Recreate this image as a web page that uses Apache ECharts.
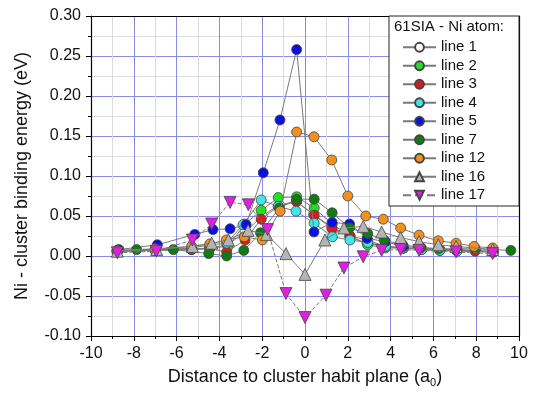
<!DOCTYPE html>
<html><head><meta charset="utf-8">
<script src="https://cdn.jsdelivr.net/npm/echarts@6/dist/echarts.min.js"></script>
<style>html,body{margin:0;padding:0;background:#fff}#c{width:539px;height:398px}</style>
</head><body><div id="c"></div>
<script>
// ---- data ----
const seriesNames = ['line 1','line 2','line 3','line 4','line 5','line 7','line 12','line 16','line 17'];
const seriesColors = ['#ffffff','#22e022','#e01a1a','#3fe6ea','#0a10e0','#127a12','#f0901e','#b4b4b4','#e020e0'];

const x1 = [-8.8,-7.0,-5.3,-4.45,-3.6,-2.8,-2.0,-1.2,-0.4,0.4,1.25,2.1,2.9,3.75,4.6,5.45,6.3,7.1,8.8];
const y1 = [0.006,0.007,0.008,0.010,0.014,0.030,0.050,0.064,0.068,0.052,0.036,0.024,0.016,0.012,0.010,0.009,0.008,0.007,0.005];

const x2 = [-8.77,-7.0,-5.3,-4.45,-3.6,-2.8,-2.05,-1.25,-0.39,0.43,1.27,2.1,2.93,3.75,4.6,5.45,6.3,7.1,7.95,8.8];
const y2 = [0.007,0.008,0.009,0.010,0.012,0.040,0.057,0.073,0.074,0.060,0.040,0.025,0.014,0.010,0.010,0.009,0.008,0.008,0.007,0.006];

const x3 = [-8.77,-7.0,-5.3,-4.45,-3.66,-2.8,-2.05,-1.25,-0.39,0.43,1.27,2.1,2.93,3.75,4.6,5.45,6.3,7.1,7.95,8.8];
const y3 = [0.006,0.007,0.008,0.009,0.005,0.020,0.046,0.062,0.068,0.051,0.034,0.025,0.020,0.012,0.010,0.008,0.007,0.007,0.006,0.005];

const x4 = [-8.77,-7.0,-5.3,-4.45,-3.66,-2.9,-2.05,-1.25,-0.42,0.43,1.28,2.1,2.93,3.75,4.6,5.45,6.3,7.1,8.8];
const y4 = [0.006,0.007,0.010,0.014,0.016,0.039,0.070,0.062,0.056,0.041,0.024,0.020,0.017,0.012,0.010,0.008,0.007,0.006,0.005];

const x5 = [-8.7,-6.9,-5.15,-4.3,-3.5,-2.75,-1.95,-1.17,-0.39,0.42,1.27,2.08,2.9,3.75,4.6,5.4,7.06,8.77];
const y5 = [0.008,0.014,0.027,0.033,0.034,0.039,0.104,0.170,0.258,0.030,0.042,0.040,0.022,0.018,0.012,0.010,0.008,0.005];

const x7 = [-7.87,-6.15,-4.5,-3.66,-2.86,-2.08,-1.2,-0.39,0.43,1.27,2.08,2.93,3.7,4.55,5.4,6.25,7.1,7.96,9.62];
const y7 = [0.008,0.008,0.003,0.000,0.007,0.029,0.060,0.071,0.071,0.054,0.035,0.028,0.020,0.014,0.011,0.009,0.009,0.009,0.007];

const x12 = [-8.77,-7.0,-5.3,-4.45,-3.68,-2.84,-1.99,-1.16,-0.39,0.42,1.25,2.0,2.84,3.66,4.47,5.33,6.23,7.06,7.9,8.77];
const y12 = [0.007,0.009,0.012,0.015,0.020,0.024,0.020,0.056,0.155,0.149,0.120,0.075,0.050,0.046,0.035,0.026,0.019,0.016,0.012,0.010];

const x16 = [-8.77,-6.93,-5.26,-4.36,-3.58,-2.66,-1.8,-0.89,0.0,0.93,1.82,2.72,3.58,4.47,5.33,6.23,7.06,8.77];
const y16 = [0.006,0.008,0.012,0.016,0.020,0.032,0.027,0.003,-0.023,0.020,0.035,0.037,0.030,0.023,0.018,0.014,0.012,0.008];

const x17 = [-8.77,-6.95,-5.26,-4.36,-3.5,-2.65,-1.75,-0.89,0.0,0.98,1.82,2.72,3.58,4.47,5.33,7.06,8.77];
const y17 = [0.004,0.006,0.020,0.040,0.067,0.064,0.033,-0.047,-0.077,-0.049,-0.015,-0.001,0.007,0.008,0.007,0.005,0.003];

const xTicks = [-10,-8,-6,-4,-2,0,2,4,6,8,10];
const yTicks = ['-0.10','-0.05','0.00','0.05','0.10','0.15','0.20','0.25','0.30'];

const allX = [x1,x2,x3,x4,x5,x7,x12,x16,x17];
const allY = [y1,y2,y3,y4,y5,y7,y12,y16,y17];

// ---- chart ----
const chart = echarts.init(document.getElementById('c'), null, {renderer:'canvas'});
const FONT = 'Liberation Sans, Arial, sans-serif';

const series = seriesNames.map((name, i) => {
  const isUp = name === 'line 16';
  const isDown = name === 'line 17';
  return {
    name, type: 'line',
    data: allX[i].map((x, k) => [x, allY[i][k]]),
    symbol: (isUp || isDown) ? 'triangle' : 'circle',
    symbolRotate: isDown ? 180 : 0,
    symbolSize: (isUp || isDown) ? 12 : 10,
    lineStyle: { color: '#7a7a7a', width: 1, type: isDown ? 'dashed' : 'solid' },
    itemStyle: { color: seriesColors[i], borderColor: '#444', borderWidth: 0.8 },
    emphasis: { disabled: true },
    z: 2 + i * 0.01
  };
});

chart.setOption({
  animation: false,
  backgroundColor: '#ffffff',
  grid: { left: 91, right: 20, top: 16, bottom: 62, containLabel: false },
  xAxis: [{
    type: 'value', min: -10, max: 10, interval: 2,
    axisLine: { show: true, onZero: false, lineStyle: { color: '#000', width: 1.2 } },
    axisTick: { show: true, length: 5, lineStyle: { color: '#000' } },
    minorTick: { show: true, splitNumber: 2, length: 3, lineStyle: { color: '#000' } },
    splitLine: { show: true, lineStyle: { color: '#8a8ae8', width: 1 } },
    minorSplitLine: { show: true, lineStyle: { color: '#dcdcdc', width: 1 } },
    axisLabel: { color: '#111', fontSize: 16, fontFamily: FONT, margin: 10,
      formatter: v => String(Math.round(v)) },
    name: 'Distance to cluster habit plane (a{sub|0})',
    nameLocation: 'middle', nameGap: 31,
    nameTextStyle: { color: '#111', fontSize: 18, fontFamily: FONT,
      rich: { sub: { fontSize: 11, fontFamily: FONT, color: '#111', padding: [10, 0, 0, 0] } } }
  }, {
    type: 'value', position: 'top', min: 0, max: 1,
    axisLine: { show: true, onZero: false, lineStyle: { color: '#000', width: 1.2 } },
    axisTick: { show: false }, axisLabel: { show: false }, splitLine: { show: false }
  }],
  yAxis: [{
    type: 'value', min: -0.1, max: 0.3, interval: 0.05,
    axisLine: { show: true, onZero: false, lineStyle: { color: '#000', width: 1.2 } },
    axisTick: { show: true, length: 5, lineStyle: { color: '#000' } },
    minorTick: { show: true, splitNumber: 2, length: 3, lineStyle: { color: '#000' } },
    splitLine: { show: true, lineStyle: { color: '#8a8ae8', width: 1 } },
    minorSplitLine: { show: true, lineStyle: { color: '#dcdcdc', width: 1 } },
    axisLabel: { color: '#111', fontSize: 16, fontFamily: FONT, margin: 10,
      formatter: v => { const i = Math.round((v + 0.1) / 0.05); return yTicks[i]; } },
    name: 'Ni - cluster binding energy (eV)',
    nameLocation: 'middle', nameGap: 60,
    nameTextStyle: { color: '#111', fontSize: 18, fontFamily: FONT }
  }, {
    type: 'value', position: 'right', min: 0, max: 1,
    axisLine: { show: true, onZero: false, lineStyle: { color: '#000', width: 1.2 } },
    axisTick: { show: false }, axisLabel: { show: false }, splitLine: { show: false }
  }],
  legend: {
    orient: 'vertical', left: 397, top: 33,
    itemWidth: 33, itemHeight: 11, itemGap: 0,
    data: seriesNames,
    textStyle: { color: '#111', fontSize: 15, fontFamily: FONT, lineHeight: 18.5 },
    selectedMode: false, z: 6
  },
  graphic: [
    { type: 'rect', z: 5, shape: { x: 389, y: 16, width: 130, height: 190 },
      style: { fill: '#ffffff', stroke: '#222', lineWidth: 1 } },
    { type: 'text', z: 7, left: 394, top: 19,
      style: { text: '61SIA - Ni atom:', fill: '#111', font: '15px ' + FONT } }
  ],
  series
});
</script>
</body></html>
